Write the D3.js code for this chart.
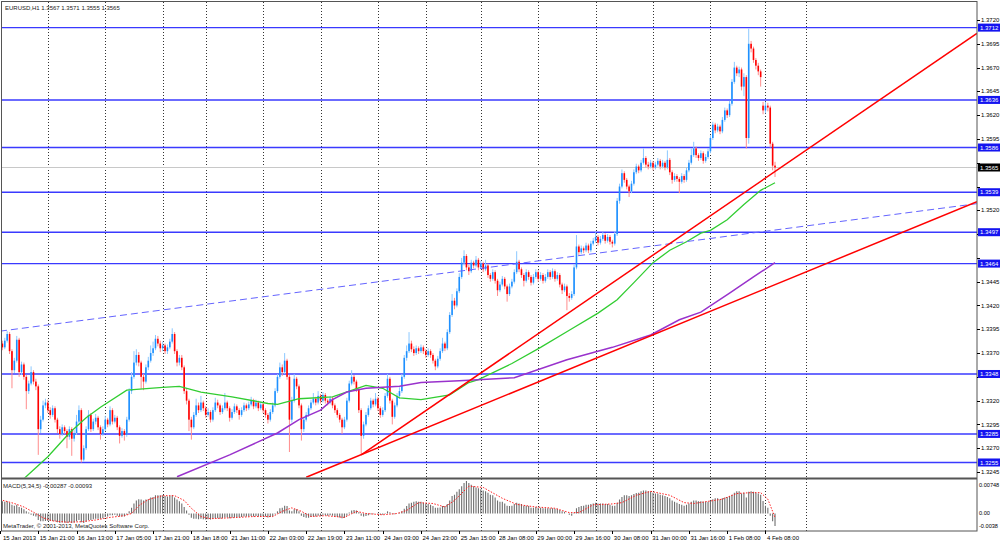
<!DOCTYPE html>
<html>
<head>
<meta charset="utf-8">
<script src="https://cdn.jsdelivr.net/npm/d3@7"></script>
<style>
  body { margin: 0; background: #fff; }
  svg { display: block; font-family: "Liberation Sans", Arial, sans-serif; }
</style>
</head>
<body>
<script>
const width = 1000;
const height = 541;

// prices are stored in pips above 1.3000 (price = 1.3 + pips / 10000)
const opens = [
  374,380,376,383,390,372,352,362,384,350, 358,345,330,338,350,340,335,290,300,315,
  318,310,305,312,300,290,285,292,288,282, 290,280,286,298,310,258,270,290,305,290,
  298,302,292,285,290,300,295,310,298,302, 292,283,288,284,300,330,345,360,368,360,
  345,340,355,362,370,375,385,380,375,378, 372,376,382,390,372,360,365,355,330,320,
  300,292,305,315,310,318,312,305,308,300, 310,318,315,308,312,318,312,302,308,314,
  310,305,310,315,312,316,320,314,318,312, 316,310,305,300,308,315,330,345,355,350,
  362,345,300,320,343,335,315,290,300,305, 312,318,322,318,325,320,326,320,318,322,
  315,310,305,300,292,300,320,338,345,340, 332,310,283,295,305,312,320,316,322,312,
  305,310,325,343,320,303,315,325,330,345, 365,372,380,374,370,375,372,376,372,368,
  372,368,362,356,364,372,380,375,392,410, 425,420,435,450,465,472,460,456,465,462,
  468,460,464,458,462,452,448,455,446,436, 442,448,440,432,440,445,455,466,458,452,
  446,455,450,444,450,455,448,452,446,450, 455,450,456,448,452,442,436,440,430,428,
  432,460,482,476,480,478,483,478,485,488, 492,486,490,494,488,492,487,485,495,530,
  545,559,552,545,540,548,560,566,562,570, 575,568,566,570,565,568,572,566,570,565,
  573,560,552,556,553,550,556,552,562,570, 578,585,578,575,580,572,576,582,596,610,
  604,608,603,615,625,620,632,655,670,664, 668,650,660,596,695,690,678,672,666,630,
  625,630,628,590,567
];
const highs = [
  384,383,386,393,392,374,365,388,386,361, 360,347,341,356,352,343,337,304,320,322,
  321,313,315,314,302,293,295,294,290,293, 292,289,305,315,312,273,293,310,307,301,
  306,304,294,293,304,302,314,312,305,304, 294,291,290,303,333,350,372,374,371,362,
  348,358,366,378,382,389,388,383,382,380, 379,385,396,392,374,368,368,357,333,322,
  303,308,322,318,325,320,314,312,310,313, 323,321,317,315,328,320,314,311,317,316,
  312,313,318,317,319,324,322,321,320,319, 318,312,307,311,318,333,348,360,358,370,
  364,347,324,348,345,337,317,303,308,315, 321,328,324,330,327,329,328,322,325,324,
  317,312,307,302,303,323,341,352,347,342, 334,312,298,308,315,323,322,328,324,314,
  313,328,348,345,322,318,328,334,348,368, 378,392,383,377,378,377,379,378,374,375,
  374,370,364,367,375,386,382,395,413,432, 428,438,454,470,478,474,463,468,467,472,
  470,467,466,468,464,454,458,457,448,445, 451,450,442,443,448,458,477,468,460,454,
  458,457,452,453,458,457,455,454,453,458, 457,459,458,455,454,444,443,442,433,435,
  463,494,484,483,482,486,485,488,491,497, 494,493,497,496,495,494,489,498,533,548,
  563,561,554,547,551,563,569,568,573,585, 577,571,573,572,571,575,574,573,572,583,
  575,562,559,558,555,559,558,565,573,585, 592,587,580,583,582,579,585,599,613,612,
  611,610,618,628,627,635,658,676,672,671, 670,664,662,711,698,692,680,675,668,634,
  634,633,630,592,571
];
const lows = [
  370,373,374,381,369,333,349,360,345,347, 342,311,327,336,337,331,263,286,298,312,
  307,301,303,297,286,280,283,285,270,279, 262,277,284,296,255,256,268,288,287,288,
  295,289,279,283,288,292,293,295,296,289, 275,281,278,282,298,327,343,357,356,332,
  331,338,352,360,367,373,377,371,372,369, 369,374,380,369,356,357,352,327,316,288,
  279,290,303,307,308,309,302,303,297,298, 308,312,305,306,310,309,298,300,306,307,
  300,303,308,309,310,314,311,312,309,310, 307,302,296,298,306,313,328,343,346,348,
  342,266,297,318,332,312,278,287,298,303, 310,316,315,316,317,318,317,315,316,312,
  307,302,297,285,290,298,318,336,337,329, 307,264,280,293,303,310,313,314,309,302,
  303,308,323,317,295,301,313,322,328,343, 362,370,371,367,368,369,370,369,365,366,
  365,359,352,354,362,370,372,373,390,408, 416,418,433,448,462,457,452,454,459,460,
  457,458,455,456,449,445,446,443,430,434, 440,437,424,430,438,443,453,455,449,440,
  444,447,441,442,448,445,446,443,444,448, 447,448,445,446,439,432,434,415,424,426,
  430,458,473,474,475,476,475,476,483,486, 483,484,488,485,486,484,481,483,493,527,
  543,549,542,534,538,546,558,559,560,568, 565,563,564,562,563,566,563,564,562,563,
  557,548,550,550,538,548,549,550,560,568, 576,575,572,573,569,570,574,580,594,601,
  602,600,601,613,617,618,630,653,661,660, 646,640,585,590,686,675,668,662,650,621,
  622,624,586,562,555
];
const closes = [
  380,376,383,390,372,352,362,384,350,358, 345,330,338,350,340,335,290,300,315,318,
  310,305,312,300,290,285,292,288,282,290, 280,286,298,310,258,270,290,305,290,298,
  302,292,285,290,300,295,310,298,302,292, 283,288,284,300,330,345,360,368,360,345,
  340,355,362,370,375,385,380,375,378,372, 376,382,390,372,360,365,355,330,320,300,
  292,305,315,310,318,312,305,308,300,310, 318,315,308,312,318,312,302,308,314,310,
  305,310,315,312,316,320,314,318,312,316, 310,305,300,308,315,330,345,355,350,362,
  345,300,320,343,335,315,290,300,305,312, 318,322,318,325,320,326,320,318,322,315,
  310,305,300,292,300,320,338,345,340,332, 310,283,295,305,312,320,316,322,312,305,
  310,325,343,320,303,315,325,330,345,365, 372,380,374,370,375,372,376,372,368,372,
  368,362,356,364,372,380,375,392,410,425, 420,435,450,465,472,460,456,465,462,468,
  460,464,458,462,452,448,455,446,436,442, 448,440,432,440,445,455,466,458,452,446,
  455,450,444,450,455,448,452,446,450,455, 450,456,448,452,442,436,440,430,428,432,
  460,482,476,480,478,483,478,485,488,492, 486,490,494,488,492,487,485,495,530,545,
  559,552,545,540,548,560,566,562,570,575, 568,566,570,565,568,572,566,570,565,573,
  560,552,556,553,550,556,552,562,570,578, 585,578,575,580,572,576,582,596,610,604,
  608,603,615,625,620,632,655,670,664,668, 650,660,596,695,690,678,672,666,660,625,
  630,628,590,567,565
];

// MACD(5,34,5) main values, in units of 0.0001
const macdMain = [
  30,28,27,28,25,20,18,20,15,13, 10,5,2,-3,-5,-7,-15,-18,-18,-17,
  -17,-17,-17,-18,-20,-22,-21,-21,-22,-20, -22,-21,-18,-15,-20,-22,-19,-15,-15,-13,
  -12,-12,-12,-11,-8,-7,-4,-4,-3,-5, -7,-7,-7,-3,5,13,23,30,33,32,
  30,32,33,37,38,42,42,42,42,40, 39,40,42,37,32,28,23,15,7,-3,
  -10,-12,-12,-13,-12,-13,-14,-13,-14,-12, -11,-11,-12,-11,-9,-9,-11,-10,-9,-8,
  -9,-8,-7,-7,-7,-6,-7,-6,-7,-6, -7,-7,-9,-8,-7,-2,5,12,13,18,
  17,7,5,10,10,5,-5,-8,-10,-10, -8,-7,-7,-5,-5,-3,-4,-5,-4,-5,
  -7,-8,-9,-11,-10,-5,2,7,8,7, 3,-5,-7,-6,-4,-2,-2,0,-2,-3,
  -3,-1,5,3,-2,-2,0,2,5,11, 17,23,25,27,28,27,27,25,23,22,
  20,17,13,13,14,17,17,22,30,40, 43,50,56,63,70,74.8,70,66,63,60,
  58,56,53,51,48,43,42,37,30,27, 27,23,18,17,18,22,25,23,22,18,
  18,17,13,13,15,13,13,12,12,12, 12,12,11,11,8,5,4,0,-3,-5,
  2,12,15,17,18,20,20,22,23,25, 23,23,23,22,22,20,18,18,25,32,
  38,42,42,40,42,45,47,48,51,53, 53,51,51,48,46,46,43,42,40,38,
  35,30,27,25,22,20,18,20,23,27, 30,30,28,28,27,27,27,30,33,35,
  35,33,35,37,38,40,43,48,51,51, 46,48,37,50,51,50,48,46,43,29,
  18,13,-5,-18,-28.7
];
// signal line, read at [bar, value]
const macdSignal = [
  [0,32],[6,23],[10,15],[14,3],[18,-10],[22,-17],[28,-20],[34,-19],[40,-15],[46,-9],
  [52,-5],[55,0],[58,18],[62,32],[68,41],[73,41],[77,30],[80,12],[84,-7],[88,-12],
  [96,-10],[106,-7],[114,-7],[118,5],[122,13],[126,5],[130,-7],[136,-5],[144,-9],[149,5],
  [153,0],[160,-3],[166,0],[170,7],[175,25],[181,23],[186,15],[190,30],[196,63],[202,60],
  [210,35],[216,21],[224,15],[232,12],[238,2],[242,2],[248,20],[256,22],[260,25],[266,42],
  [272,51],[280,42],[286,25],[290,23],[296,28],[302,33],[308,46],[314,48],[318,48],[321,33],
  [324,-9.3]
];
const macdMax = 74.8;
const macdMin = -38;
const macdLabels = ['0.00748', '0.00', '-0.0038'];

// moving averages, read at [bar, pips]
const maGreen = [
  [10,238],[20,261],[29,286],[36,302],[42,313],[53,331],[68,334],[75,335],[84,329],[97,324],
  [112,317],[116,316],[125,322],[139,324],[153,336],[160,333],[167,323],[176,321],[188,326],[196,339],
  [200,342],[214,359],[226,376],[238,394],[250,412],[258,426],[265,444],[273,465],[280,478],[287,487],
  [293,496],[297,499],[304,510],[311,526],[318,541],[324,549]
];
const maPurple = [
  [74,240],[96,263],[116,286],[125,300],[134,310],[139,321],[145,329],[153,333],[167,335],[176,339],
  [192,341],[215,344],[237,363],[256,376],[272,389],[284,405],[293,413],[305,433],[315,450],[324,465]
];

// drawn objects
const trendSteep = [[151, 263], [408.4, 706]];
const trendLow = [[128, 239.5], [408.4, 529]];
const trendDashed = [[0, 393], [408.4, 527]];
const levels = [712, 636, 586, 539, 497, 464, 348, 285, 255];
const bid = 565;

const priceTicks = [245,270,295,320,345,370,395,420,445,470,495,520,545,570,595,620,645,670,695,720];
const gridBars = [20,44,68,86,110,134,158,178,201,225,249,273,297,320,337];
const dateLabels = [
  '15 Jan 2013','15 Jan 21:00','16 Jan 13:00','17 Jan 05:00','17 Jan 21:00','18 Jan 18:00',
  '21 Jan 11:00','22 Jan 03:00','22 Jan 19:00','23 Jan 11:00','24 Jan 03:00','24 Jan 23:00',
  '25 Jan 15:00','28 Jan 08:00','29 Jan 00:00','29 Jan 16:00','30 Jan 08:00','31 Jan 00:00',
  '31 Jan 16:00','1 Feb 08:00','4 Feb 08:00'
];
const labelEvery = 16;

const plotRight = 977;
const mainTop = 2, mainBottom = 477.5, subTop = 479.5, subBottom = 531;
const fs = 6;
const toPrice = p => (1.3 + p / 10000).toFixed(4);

const x = d3.scaleLinear().domain([0, 408.44]).range([0, plotRight]);
const y = d3.scaleLinear().domain([245, 720]).range([472, 20]);
const ym = d3.scaleLinear().domain([macdMin, macdMax]).range([530, 481]);

const svg = d3.select('body').append('svg')
  .attr('width', width)
  .attr('height', height);

svg.append('rect').attr('width', width).attr('height', height).attr('fill', '#fff');

const defs = svg.append('defs');
defs.append('clipPath').attr('id', 'clipMain')
  .append('rect').attr('x', 1.5).attr('y', mainTop).attr('width', plotRight - 1.5).attr('height', mainBottom - mainTop);
defs.append('clipPath').attr('id', 'clipSub')
  .append('rect').attr('x', 1.5).attr('y', subTop).attr('width', plotRight - 1.5).attr('height', subBottom - subTop);

// vertical grid
svg.append('g').selectAll('line')
  .data(gridBars)
  .enter().append('line')
  .attr('x1', d => Math.round(x(d)) + 0.5)
  .attr('x2', d => Math.round(x(d)) + 0.5)
  .attr('y1', mainTop)
  .attr('y2', subBottom)
  .attr('stroke', '#333')
  .attr('stroke-width', 1)
  .attr('stroke-dasharray', '1,2');

const main = svg.append('g').attr('clip-path', 'url(#clipMain)');

// bid line
main.append('line')
  .attr('x1', 1.5).attr('x2', plotRight)
  .attr('y1', Math.round(y(bid)) + 0.5).attr('y2', Math.round(y(bid)) + 0.5)
  .attr('stroke', '#c8c8c8');

// horizontal levels
main.selectAll('line.level')
  .data(levels)
  .enter().append('line')
  .attr('class', 'level')
  .attr('x1', 1.5).attr('x2', plotRight)
  .attr('y1', d => y(d)).attr('y2', d => y(d))
  .attr('stroke', '#3a3aff')
  .attr('stroke-width', 1.4);

// candles
const bars = d3.range(closes.length);
const up = i => closes[i] >= opens[i];

main.append('g').selectAll('line')
  .data(bars)
  .enter().append('line')
  .attr('x1', i => x(i)).attr('x2', i => x(i))
  .attr('y1', i => y(highs[i])).attr('y2', i => y(lows[i]))
  .attr('stroke', i => up(i) ? '#8cc8ff' : '#ff8c8c')
  .attr('stroke-width', 1);

main.append('g').selectAll('rect')
  .data(bars)
  .enter().append('rect')
  .attr('x', i => x(i) - 0.8)
  .attr('width', 1.6)
  .attr('y', i => y(Math.max(opens[i], closes[i])))
  .attr('height', i => Math.max(1, Math.abs(y(opens[i]) - y(closes[i]))))
  .attr('fill', i => up(i) ? '#1e90ff' : '#ff0000');

// moving averages
const line = d3.line().x(d => x(d[0])).y(d => y(d[1]));

main.append('path')
  .attr('d', line(maGreen))
  .attr('fill', 'none')
  .attr('stroke', '#32cd32')
  .attr('stroke-width', 1.3);

main.append('path')
  .attr('d', line(maPurple))
  .attr('fill', 'none')
  .attr('stroke', '#9932cc')
  .attr('stroke-width', 1.5);

// trend lines
main.append('path')
  .attr('d', line(trendDashed))
  .attr('fill', 'none')
  .attr('stroke', '#6464ff')
  .attr('stroke-width', 1)
  .attr('stroke-dasharray', '7,4');

[trendSteep, trendLow].forEach(t => {
  main.append('path')
    .attr('d', line(t))
    .attr('fill', 'none')
    .attr('stroke', '#ff0000')
    .attr('stroke-width', 1.5);
});

// MACD sub window
const sub = svg.append('g').attr('clip-path', 'url(#clipSub)');

sub.append('g').selectAll('line')
  .data(bars)
  .enter().append('line')
  .attr('x1', i => x(i)).attr('x2', i => x(i))
  .attr('y1', ym(0)).attr('y2', i => ym(macdMain[i]))
  .attr('stroke', '#6e6e6e')
  .attr('stroke-width', 1.1);

sub.append('path')
  .attr('d', d3.line().x(d => x(d[0])).y(d => ym(d[1]))(macdSignal))
  .attr('fill', 'none')
  .attr('stroke', '#ff2020')
  .attr('stroke-width', 1)
  .attr('stroke-dasharray', '1.5,1.5');

// frame
svg.append('rect')
  .attr('x', 1.5).attr('y', 1.5)
  .attr('width', plotRight - 1.5).attr('height', subBottom - 1.5)
  .attr('fill', 'none').attr('stroke', '#555');

svg.append('rect')
  .attr('x', 1.5).attr('y', mainBottom)
  .attr('width', plotRight - 1.5).attr('height', 2)
  .attr('fill', '#555');

// price axis (labels hidden behind a level tag are left out, as the tag covers them)
const tagged = levels.concat([bid]);
const visibleTicks = priceTicks.filter(t => tagged.every(v => Math.abs(y(v) - y(t)) > 7));
const axisG = svg.append('g');
axisG.selectAll('line')
  .data(priceTicks)
  .enter().append('line')
  .attr('x1', plotRight).attr('x2', plotRight + 3)
  .attr('y1', d => Math.round(y(d)) + 0.5).attr('y2', d => Math.round(y(d)) + 0.5)
  .attr('stroke', '#000');
axisG.selectAll('text')
  .data(visibleTicks)
  .enter().append('text')
  .attr('x', plotRight + 4)
  .attr('y', d => y(d))
  .attr('dy', '0.35em')
  .attr('font-size', fs)
  .attr('fill', '#000')
  .text(d => toPrice(d));

// level labels
const tags = svg.append('g');
levels.forEach(v => {
  tags.append('rect')
    .attr('x', plotRight + 1).attr('y', y(v) - 4)
    .attr('width', width - plotRight - 1).attr('height', 8)
    .attr('fill', '#1414f0');
  tags.append('text')
    .attr('x', plotRight + 3).attr('y', y(v))
    .attr('dy', '0.35em')
    .attr('font-size', fs)
    .attr('fill', '#fff')
    .text(toPrice(v));
});
tags.append('rect')
  .attr('x', plotRight + 1).attr('y', y(bid) - 4)
  .attr('width', width - plotRight - 1).attr('height', 8)
  .attr('fill', '#000');
tags.append('text')
  .attr('x', plotRight + 3).attr('y', y(bid))
  .attr('dy', '0.35em')
  .attr('font-size', fs)
  .attr('fill', '#fff')
  .text(toPrice(bid));

// MACD axis labels
[[macdMax, 485], [0, ym(0)], [macdMin, 526.5]].forEach((d, k) => {
  svg.append('text')
    .attr('x', plotRight + 2).attr('y', d[1])
    .attr('dy', '0.35em')
    .attr('font-size', 5.6)
    .attr('fill', '#000')
    .text(macdLabels[k]);
});

// time axis
const timeG = svg.append('g');
dateLabels.forEach((lbl, k) => {
  const px = x(k * labelEvery);
  timeG.append('line')
    .attr('x1', Math.round(px) + 0.5).attr('x2', Math.round(px) + 0.5)
    .attr('y1', subBottom).attr('y2', subBottom + 3)
    .attr('stroke', '#000');
  timeG.append('text')
    .attr('x', k === 0 ? 3 : px + 1.5)
    .attr('y', 539.5)
    .attr('font-size', fs)
    .attr('fill', '#000')
    .text(lbl);
});

// captions
const last = closes.length - 1;
svg.append('text')
  .attr('x', 5).attr('y', 10)
  .attr('font-size', fs)
  .attr('fill', '#222')
  .text(`EURUSD,H1  ${toPrice(opens[last])} ${toPrice(highs[last])} ${toPrice(lows[last])} ${toPrice(closes[last])}`);

svg.append('text')
  .attr('x', 3).attr('y', 487.5)
  .attr('font-size', fs)
  .attr('fill', '#222')
  .text(`MACD(5,34,5) ${(macdMain[last] / 10000).toFixed(5)} ${(macdSignal[macdSignal.length - 1][1] / 10000).toFixed(5)}`);

svg.append('text')
  .attr('x', 3).attr('y', 528)
  .attr('font-size', fs)
  .attr('fill', '#222')
  .text('MetaTrader, © 2001-2013, MetaQuotes Software Corp.');
</script>
</body>
</html>
